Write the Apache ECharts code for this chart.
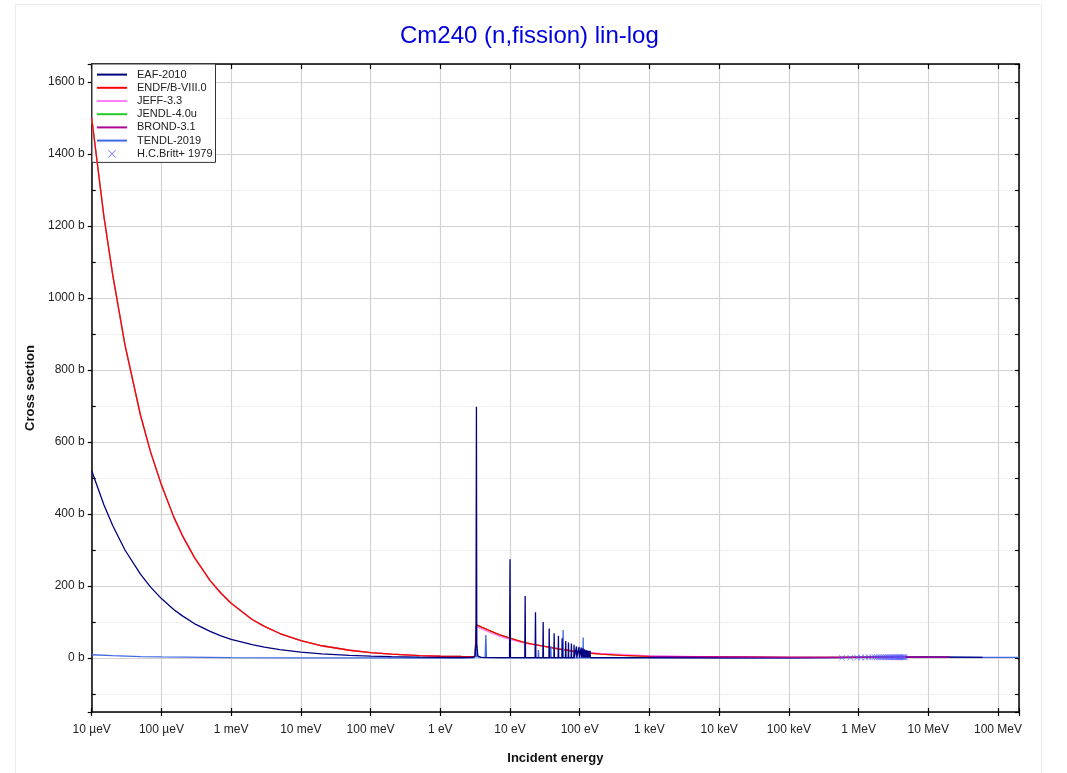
<!DOCTYPE html>
<html>
<head>
<meta charset="utf-8">
<title>Cm240 (n,fission) lin-log</title>
<script src="https://cdn.jsdelivr.net/npm/echarts@6/dist/echarts.min.js"></script>
<style>
html,body{margin:0;padding:0;background:#fff;}
#chart{width:1067px;height:773px;}
</style>
</head>
<body>
<div id="chart"></div>
<script>
// ---- tick labels ----
const xTickLabels = ['10 µeV','100 µeV','1 meV','10 meV','100 meV','1 eV','10 eV','100 eV','1 keV','10 keV','100 keV','1 MeV','10 MeV','100 MeV'];
const legendNames = ['EAF-2010','ENDF/B-VIII.0','JEFF-3.3','JENDL-4.0u','BROND-3.1','TENDL-2019','H.C.Britt+ 1979'];

// ---- data: [incident energy (eV), cross section (b)] ----
const eaf2010 = [
  [1e-5,520],[1.5e-5,425],[2e-5,368],[3e-5,300],[5e-5,233],[7e-5,197],[1e-4,165],[1.5e-4,135],[2e-4,117],[3e-4,95],[5e-4,74],[7e-4,62],
  [1e-3,52],[2e-3,37],[3e-3,30],[5e-3,23],[1e-2,16.5],[2e-2,11.6],[5e-2,7.4],[0.1,5.2],[0.2,3.7],[0.5,2.4],[1,1.7],[2,1.4],[2.9,1.6],
  [3.15,5],[3.25,40],[3.30,698],[3.34,40],[3.45,6],[3.8,2],[7.45,1],[7.6,3.5],[7.75,1],[9.85,1],[10.0,274],[10.15,1],
  [16.3,1],[16.5,172],[16.7,1],[22.9,1],[23.2,127],[23.5,1],[29.6,1],[29.9,100],[30.2,1],[36.2,1],[36.5,82],[36.8,1],
  [42.6,1],[43,69],[43.4,1],[49,1],[49.5,62],[50,1],[55.5,1],[56,55],[56.5,1],[62.4,1],[63,47],[63.6,1],[68.4,1],[69,43],[69.6,1],
  [75.3,1],[76,40],[76.7,1],[82.3,1],[83,37],[83.7,1],[89.2,1],[90,32],[90.8,1],[97,1],[98,31],[99,1],[104,1],[105,29],[106,1],
  [110,1],[111,27],[112,1],[116,1],[117,24],[118,1],[122,1],[123,22],[124,1],[128,1],[129,21],[130,1],[134,1],[135,20],[136,1],
  [140,1],[141,20],[142,1],[145,1],[1e3,1],[1e4,0.7],[1e5,0.5],[5e5,0.8],[1e6,1.5],[2e6,2.1],[5e6,2.2],[1e7,2.3],[2e7,2.5],[6e7,2]
];
const endfLow = [
  [1e-5,1500],[1.5e-5,1225],[2e-5,1065],[3e-5,870],[5e-5,675],[7e-5,572],[1e-4,481],[1.5e-4,392],[2e-4,340],[3e-4,278],[5e-4,215],[7e-4,182],
  [1e-3,152],[2e-3,107],[3e-3,88],[5e-3,68],[1e-2,48],[2e-2,34],[5e-2,21.5],[0.1,15.2],[0.2,10.7],[0.5,6.8],[1,4.8],[2,4.2],[3.15,4]
];
const endfHigh = [
  [3.3,92],[4,85],[5,77],[7,65],[10,55],[15,45],[20,39],[30,33],[50,25],[100,16],[200,10.5],[400,7.5],[1e3,4.5],[1e4,3],
  [1e5,1.5],[1e6,1.5],[3e6,2.2],[1e7,2.4],[2e7,2.5]
];
const jeffHigh = [
  [3.3,88],[4,80],[5,72],[7,61],[10,52],[15,43],[20,38],[30,33],[50,26],[100,17.5],[200,13],[400,10],[1e3,6],[1e4,3],
  [1e5,1.5],[1e6,1.5],[3e6,2.2],[1e7,2.4],[2e7,2.5]
];
const brond31 = [[1e3,4.5],[1e4,3],[1e5,1.5],[1e6,1.5],[3e6,2.2],[1e7,2.4],[2e7,2.5]];
const tendl2019 = [
  [1e-5,9],[2e-5,6.4],[5e-5,4],[1e-4,2.9],[1e-3,0.9],[1e-2,0.3],[0.1,0.1],[1,0.05],[3.1,0.5],[3.24,35],[3.3,3],
  [4.4,1],[4.5,64],[4.6,1],[25.3,0.5],[25.6,22],[25.9,0.5],[38.1,0.5],[38.5,33],[38.9,0.5],[57.2,0.5],[57.8,78],[58.4,0.5],
  [111,0.5],[112,57],[113,0.5],[1e3,0.4],[1e5,0.3],[1e6,1.5],[3e6,2],[2e7,2.4],[6e7,2],[2e8,1.7]
];
const britt1979 = [
  [5.78e5,0.4],[7.6e5,0.9],[9.5e5,1.3],[1.08e6,1.5],[1.25e6,1.7],[1.39e6,1.8],[1.56e6,1.9],[1.70e6,2.0],[1.84e6,2.0],[1.97e6,2.1],
  [2.1e6,2.1],[2.22e6,2.1],[2.35e6,2.2],[2.47e6,2.1],[2.6e6,2.2],[2.72e6,2.2],[2.85e6,2.1],[2.97e6,2.2],[3.1e6,2.2],[3.22e6,2.1],
  [3.35e6,2.2],[3.47e6,2.2],[3.6e6,2.1],[3.72e6,2.2],[3.85e6,2.2],[3.97e6,2.1],[4.1e6,2.2],[4.22e6,2.2],[4.35e6,2.1],[4.47e6,2.2],[4.6e6,2.2]
];

const endf8 = endfLow.concat(endfHigh);
const jeff33 = endfLow.concat(jeffHigh);
const jendl40u = endf8;

const FONT = "'Liberation Sans', Arial, sans-serif";
const xMark = 'path://M0,0.7L0.7,0L5,4.3L9.3,0L10,0.7L5.7,5L10,9.3L9.3,10L5,5.7L0.7,10L0,9.3L4.3,5Z';
const lineIcon = 'path://M0,0L30,0L30,2L0,2Z';

function xLabel(v){
  const l = Math.log10(v), r = Math.round(l);
  if (Math.abs(l - r) > 1e-6) return '';
  const i = r + 5;
  return (i >= 0 && i < xTickLabels.length) ? xTickLabels[i] : '';
}
function yLabel(v){
  return (Math.abs(v % 200) < 1e-9) ? (v + ' b') : '';
}

const chart = echarts.init(document.getElementById('chart'), null, {renderer:'canvas'});
const xCommon = {type:'log', logBase:10, min:1e-5, max:2e8, interval:1};
const yCommon = {type:'value', min:-150, max:1650, splitNumber:9};
const axisLineStyle = {color:'#000', width:1.5};

function lineSeries(name, data, color, width){
  return {name, type:'line', data, symbol:'none', showSymbol:false, animation:false,
          lineStyle:{color, width: width || 1.3}, itemStyle:{color}, z:2};
}

chart.setOption({
  animation:false,
  backgroundColor:'#fff',
  textStyle:{fontFamily:FONT},
  graphic:[{type:'rect', silent:true, z:-10, shape:{x:15.5,y:4.5,width:1026,height:800},
            style:{fill:'none', stroke:'#ececec', lineWidth:1}}],
  title:{text:'Cm240 (n,fission) lin-log', left:395, top:19,
         textStyle:{color:'#0000dd', fontSize:24, fontWeight:'normal', fontFamily:FONT}},
  grid:{left:91.7, right:48, top:64, bottom:61, containLabel:false},
  legend:{
    data: legendNames.map(function(n){
      return n === 'H.C.Britt+ 1979' ? {name:n, icon:xMark} : {name:n, icon:lineIcon};
    }),
    orient:'vertical', left:92, top:64, z:1,
    backgroundColor:'#fff', borderColor:'#333', borderWidth:1, borderRadius:0,
    padding:[4,3,2,5], itemWidth:30, itemHeight:8, itemGap:0,
    textStyle:{fontSize:11, color:'#222', lineHeight:13.2, padding:[0,0,0,5], fontFamily:FONT}
  },
  xAxis:[
    Object.assign({}, xCommon, {position:'bottom',
      name:'Incident energy', nameLocation:'middle', nameGap:40,
      nameTextStyle:{fontWeight:'bold', fontSize:13, color:'#111', fontFamily:FONT},
      axisLine:{show:true, onZero:false, lineStyle:axisLineStyle},
      axisTick:{show:true, length:4, lineStyle:{color:'#000', width:1.2}},
      axisLabel:{formatter:xLabel, margin:12, fontSize:12, color:'#222', fontFamily:FONT, hideOverlap:false},
      splitLine:{show:true, lineStyle:{color:'#d3d3d3', width:1.2}},
      minorTick:{show:false}, minorSplitLine:{show:false}}),
    Object.assign({}, xCommon, {position:'bottom',
      axisLine:{show:false, onZero:false},
      axisTick:{show:true, inside:true, length:4, lineStyle:{color:'#000', width:1.2}},
      axisLabel:{show:false}, splitLine:{show:false}}),
    Object.assign({}, xCommon, {position:'top',
      axisLine:{show:true, onZero:false, lineStyle:axisLineStyle},
      axisTick:{show:true, inside:true, length:5, lineStyle:{color:'#000', width:1.2}},
      axisLabel:{show:false}, splitLine:{show:false}})
  ],
  yAxis:[
    Object.assign({}, yCommon, {position:'left',
      name:'Cross section', nameLocation:'middle', nameGap:51, nameRotate:90,
      nameTextStyle:{fontWeight:'bold', fontSize:13, color:'#111', fontFamily:FONT},
      axisLine:{show:true, onZero:false, lineStyle:axisLineStyle},
      axisTick:{show:true, length:4, lineStyle:{color:'#000', width:1.2}},
      axisLabel:{formatter:yLabel, margin:7, fontSize:12, color:'#222', fontFamily:FONT},
      splitLine:{show:true, lineStyle:{color:'#d3d3d3', width:1.2}},
      minorTick:{show:false, splitNumber:2},
      minorSplitLine:{show:true, lineStyle:{color:'#efefef', width:1.2}}}),
    Object.assign({}, yCommon, {position:'left',
      axisLine:{show:false, onZero:false},
      axisTick:{show:false, inside:true},
      minorTick:{show:true, splitNumber:2, length:4, lineStyle:{color:'#000', width:1.2}},
      axisLabel:{show:false}, splitLine:{show:false}}),
    Object.assign({}, yCommon, {position:'right',
      axisLine:{show:true, onZero:false, lineStyle:axisLineStyle},
      axisTick:{show:true, inside:true, length:4, lineStyle:{color:'#000', width:1.2}},
      minorTick:{show:true, splitNumber:2, length:4, lineStyle:{color:'#000', width:1.2}},
      axisLabel:{show:false}, splitLine:{show:false}})
  ],
  series:[
    lineSeries('JENDL-4.0u', jendl40u, '#22cc22'),
    lineSeries('JEFF-3.3', jeff33, '#ff80ff'),
    lineSeries('ENDF/B-VIII.0', endf8, '#ff0000'),
    lineSeries('TENDL-2019', tendl2019, '#4169e1'),
    lineSeries('EAF-2010', eaf2010, '#000080'),
    lineSeries('BROND-3.1', brond31, '#b0009a'),
    {name:'H.C.Britt+ 1979', type:'scatter', data:britt1979, symbol:xMark, symbolSize:6,
     itemStyle:{color:'#5a5aff', opacity:0.85}, z:3, animation:false}
  ]
});
</script>
</body>
</html>
